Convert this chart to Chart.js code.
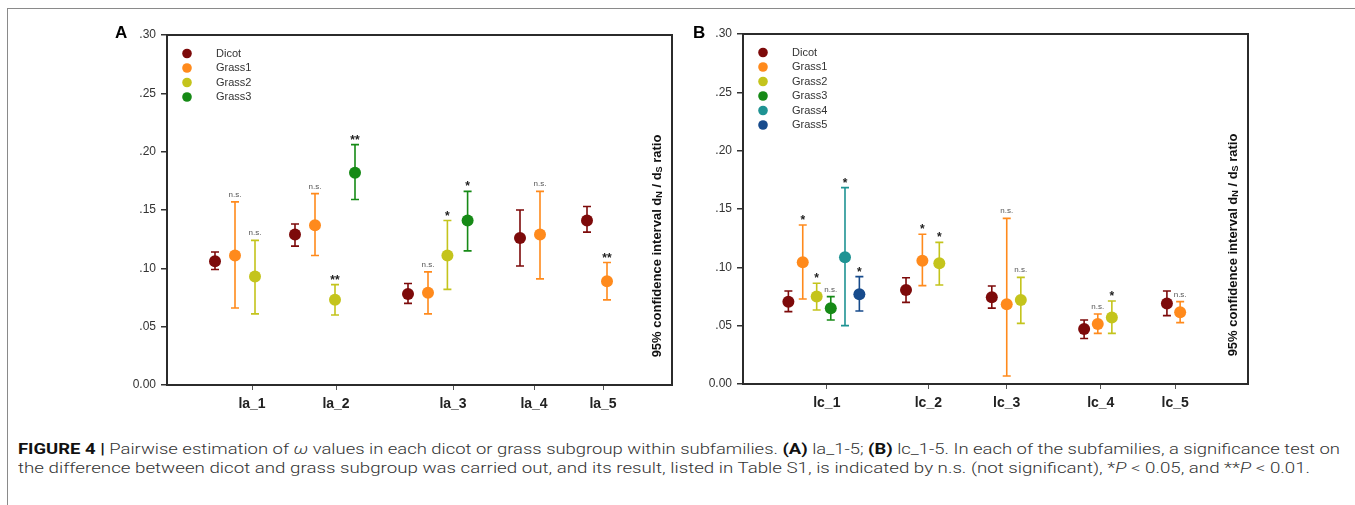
<!DOCTYPE html>
<html>
<head>
<meta charset="utf-8">
<script src="https://cdn.jsdelivr.net/npm/chart.js@4.4.0/dist/chart.umd.min.js"></script>
<style>
  body { margin: 0; background: #fff; width: 1355px; height: 505px; overflow: hidden; position: relative;
         font-family: "Liberation Sans", Arial, sans-serif; }
  #frame { position: absolute; left: 7px; top: 8px; right: 0; bottom: 0;
           border-top: 1px solid #8a8a8a; border-left: 1px solid #8a8a8a; }
  #cvA { position: absolute; left: 0; top: 0; }
  #cvB { position: absolute; left: 680px; top: 0; }
  .panel { position: absolute; font-weight: 700; font-size: 17px; color: #000; }
  .cap { position: absolute; left: 18px; font-family: Roboto, "Liberation Sans", sans-serif; font-weight: 300;
         font-size: 15px; line-height: 18px; color: #333; white-space: nowrap; transform-origin: 0 0; }
  .cap b { font-weight: 700; color: #111; }
</style>
</head>
<body>
<div id="frame"></div>
<canvas id="cvA" width="680" height="420"></canvas>
<canvas id="cvB" width="675" height="420"></canvas>
<div class="panel" style="left:115px;top:23px">A</div>
<div class="panel" style="left:693px;top:23px">B</div>
<div class="cap" id="cap1" style="top:440px"><b>FIGURE 4 |</b> Pairwise estimation of <i>ω</i> values in each dicot or grass subgroup within subfamilies. <b>(A)</b> la_1-5; <b>(B)</b> lc_1-5. In each of the subfamilies, a significance test on</div>
<div class="cap" id="cap2" style="top:459px">the difference between dicot and grass subgroup was carried out, and its result, listed in Table S1, is indicated by n.s. (not significant), *<i>P</i> &lt; 0.05, and **<i>P</i> &lt; 0.01.</div>

<script>
// --- colours per subgroup ---
const COLORS = {
  Dicot: '#7d0a0a', Grass1: '#ff8a1c', Grass2: '#c4c41c',
  Grass3: '#168a16', Grass4: '#1f9393', Grass5: '#174b8c'
};

// ---- panel A : la subfamilies ----
const groupsA = ['la_1', 'la_2', 'la_3', 'la_4', 'la_5'];
const tickPosA = [4.25, 8.45, 14.3, 18.35, 21.8];

const dicotA_x = [2.4, 6.4, 12.05, 17.65, 21.0];
const dicotA_mean = [0.106, 0.129, 0.078, 0.126, 0.141];
const dicotA_lo = [0.099, 0.119, 0.070, 0.102, 0.131];
const dicotA_hi = [0.114, 0.138, 0.087, 0.150, 0.153];

const grass1A_x = [3.4, 7.4, 13.05, 18.65, 22.0];
const grass1A_mean = [0.111, 0.137, 0.079, 0.129, 0.089];
const grass1A_lo = [0.066, 0.111, 0.061, 0.091, 0.073];
const grass1A_hi = [0.157, 0.164, 0.097, 0.166, 0.105];
const grass1A_sig = ['n.s.', 'n.s.', 'n.s.', 'n.s.', '**'];

const grass2A_x = [4.4, 8.4, 14.02];
const grass2A_mean = [0.093, 0.073, 0.111];
const grass2A_lo = [0.061, 0.060, 0.082];
const grass2A_hi = [0.124, 0.086, 0.141];
const grass2A_sig = ['n.s.', '**', '*'];

const grass3A_x = [9.4, 15.03];
const grass3A_mean = [0.182, 0.141];
const grass3A_lo = [0.159, 0.115];
const grass3A_hi = [0.206, 0.166];
const grass3A_sig = ['**', '*'];

// ---- panel B : lc subfamilies ----
const groupsB = ['lc_1', 'lc_2', 'lc_3', 'lc_4', 'lc_5'];
const tickPosB = [5.89, 13.03, 18.54, 25.15, 30.38];

const dicotB_x = [3.19, 11.46, 17.49, 23.98, 29.8];
const dicotB_mean = [0.0706, 0.0806, 0.0743, 0.0471, 0.0691];
const dicotB_lo = [0.062, 0.070, 0.065, 0.039, 0.0586];
const dicotB_hi = [0.0797, 0.0911, 0.084, 0.0549, 0.0797];

const grass1B_x = [4.2, 12.61, 18.54, 24.94, 30.73];
const grass1B_mean = [0.1043, 0.1057, 0.0683, 0.0514, 0.0614];
const grass1B_lo = [0.0729, 0.0843, 0.0069, 0.0434, 0.0526];
const grass1B_hi = [0.1363, 0.1283, 0.142, 0.060, 0.0706];
const grass1B_sig = ['*', '*', 'n.s.', 'n.s.', 'n.s.'];

const grass2B_x = [5.18, 13.8, 19.53, 25.93];
const grass2B_mean = [0.0749, 0.1034, 0.072, 0.0569];
const grass2B_lo = [0.0634, 0.0849, 0.052, 0.0434];
const grass2B_hi = [0.0863, 0.1214, 0.0914, 0.0711];
const grass2B_sig = ['*', '*', 'n.s.', '*'];

const grass3B_x = [6.17];
const grass3B_mean = [0.0649];
const grass3B_lo = [0.0549];
const grass3B_hi = [0.0749];
const grass3B_sig = ['n.s.'];

const grass4B_x = [7.17];
const grass4B_mean = [0.1086];
const grass4B_lo = [0.050];
const grass4B_hi = [0.1683];
const grass4B_sig = ['*'];

const grass5B_x = [8.18];
const grass5B_mean = [0.0769];
const grass5B_lo = [0.0626];
const grass5B_hi = [0.092];
const grass5B_sig = ['*'];

const yTicks = [0, 0.05, 0.10, 0.15, 0.20, 0.25, 0.30];
const yTickLabels = ['0.00', '.05', '.10', '.15', '.20', '.25', '.30'];

const FONT = '"Liberation Sans", Arial, sans-serif';

function series(label, xs, mean, lo, hi, sig) {
  return {
    label,
    data: xs.map((x, i) => ({ x, y: mean[i] })),
    lo, hi, sig: sig || [],
    backgroundColor: COLORS[label],
    borderColor: COLORS[label],
    pointRadius: 6,
    pointBorderWidth: 0,
    showLine: false
  };
}

// error bars under the points, significance marks above the caps
const errorBars = {
  id: 'errorBars',
  beforeDatasetsDraw(chart) {
    const { ctx, scales: { x, y } } = chart;
    chart.data.datasets.forEach(ds => {
      ctx.save();
      ctx.strokeStyle = ds.borderColor;
      ctx.lineWidth = 1.6;
      ds.data.forEach((p, i) => {
        const px = x.getPixelForValue(p.x);
        const top = y.getPixelForValue(ds.hi[i]);
        const bot = y.getPixelForValue(ds.lo[i]);
        ctx.beginPath();
        ctx.moveTo(px, top); ctx.lineTo(px, bot);
        ctx.moveTo(px - 4, top); ctx.lineTo(px + 4, top);
        ctx.moveTo(px - 4, bot); ctx.lineTo(px + 4, bot);
        ctx.stroke();
      });
      ctx.restore();
    });
  },
  afterDatasetsDraw(chart) {
    const { ctx, scales: { x, y } } = chart;
    ctx.save();
    ctx.textAlign = 'center';
    ctx.textBaseline = 'alphabetic';
    chart.data.datasets.forEach(ds => {
      ds.data.forEach((p, i) => {
        const s = ds.sig[i];
        if (!s) return;
        const px = x.getPixelForValue(p.x);
        const top = y.getPixelForValue(ds.hi[i]);
        if (s === 'n.s.') {
          ctx.font = '8px ' + FONT;
          ctx.fillStyle = '#555';
          ctx.fillText(s, px, top - 5);
        } else {
          ctx.font = 'bold 12px ' + FONT;
          ctx.fillStyle = '#222';
          ctx.fillText(s, px, top - 1);
        }
      });
    });
    ctx.restore();
  }
};

// box, in-plot legend and the rotated axis title
const decorations = {
  id: 'decorations',
  afterDraw(chart) {
    const { ctx, chartArea: a } = chart;
    ctx.save();
    ctx.lineWidth = 2;
    ctx.strokeStyle = '#2b2b2b';
    ctx.strokeRect(a.left, a.top, a.right - a.left, a.bottom - a.top);

    // legend
    ctx.font = '11px ' + FONT;
    ctx.textBaseline = 'middle';
    ctx.textAlign = 'left';
    chart.data.datasets.forEach((ds, i) => {
      const ly = a.top + 18.5 + i * 14.5;
      ctx.fillStyle = ds.backgroundColor;
      ctx.beginPath();
      ctx.arc(a.left + 20, ly, 4.8, 0, Math.PI * 2);
      ctx.fill();
      ctx.fillStyle = '#333';
      ctx.fillText(ds.label, a.left + 49, ly);
    });

    // y title, reading bottom to top, with subscripts
    const parts = [['95% confidence interval d', 0], ['N', 1], [' / d', 0], ['S', 1], [' ratio', 0]];
    const big = 'bold 13px ' + FONT, small = 'bold 9px ' + FONT;
    let total = 0;
    parts.forEach(([t, sub]) => { ctx.font = sub ? small : big; total += ctx.measureText(t).width; });
    ctx.translate(a.right - 15, a.top + 211);
    ctx.rotate(-Math.PI / 2);
    ctx.fillStyle = '#111';
    ctx.textBaseline = 'middle';
    let cx = -total / 2;
    parts.forEach(([t, sub]) => {
      ctx.font = sub ? small : big;
      ctx.fillText(t, cx, sub ? 3 : 0);
      cx += ctx.measureText(t).width;
    });
    ctx.restore();
  }
};

function makeChart(id, datasets, groups, tickPos, xMax, yWidth, pad, xHeight) {
  return new Chart(document.getElementById(id), {
    type: 'scatter',
    data: { datasets },
    options: {
      responsive: false,
      animation: false,
      events: [],
      layout: { padding: pad },
      plugins: { legend: { display: false }, tooltip: { enabled: false } },
      scales: {
        x: {
          type: 'linear', min: 0, max: xMax,
          afterBuildTicks: s => { s.ticks = tickPos.map(v => ({ value: v })); },
          afterFit: s => { s.height = xHeight; },
          grid: { display: true, drawOnChartArea: false, drawTicks: true, tickLength: 5, color: '#555', lineWidth: 1 },
          border: { display: false },
          ticks: {
            autoSkip: false, maxRotation: 0, padding: 6,
            color: '#222', font: { family: FONT, size: 14, weight: 'bold' },
            callback: (v, i) => groups[i]
          }
        },
        y: {
          type: 'linear', min: 0, max: 0.30,
          afterBuildTicks: s => { s.ticks = yTicks.map(v => ({ value: v })); },
          afterFit: s => { s.width = yWidth; },
          grid: { display: true, drawOnChartArea: false, drawTicks: true, tickLength: 6, color: '#333', lineWidth: 1.5 },
          border: { display: false },
          ticks: {
            padding: 5, color: '#333', font: { family: FONT, size: 12 },
            callback: (v, i) => yTickLabels[i]
          }
        }
      }
    },
    plugins: [errorBars, decorations]
  });
}

makeChart('cvA', [
  series('Dicot', dicotA_x, dicotA_mean, dicotA_lo, dicotA_hi),
  series('Grass1', grass1A_x, grass1A_mean, grass1A_lo, grass1A_hi, grass1A_sig),
  series('Grass2', grass2A_x, grass2A_mean, grass2A_lo, grass2A_hi, grass2A_sig),
  series('Grass3', grass3A_x, grass3A_mean, grass3A_lo, grass3A_hi, grass3A_sig)
], groupsA, tickPosA, 25.25, 167, { left: 0, top: 35, right: 8, bottom: 0 }, 35);

makeChart('cvB', [
  series('Dicot', dicotB_x, dicotB_mean, dicotB_lo, dicotB_hi),
  series('Grass1', grass1B_x, grass1B_mean, grass1B_lo, grass1B_hi, grass1B_sig),
  series('Grass2', grass2B_x, grass2B_mean, grass2B_lo, grass2B_hi, grass2B_sig),
  series('Grass3', grass3B_x, grass3B_mean, grass3B_lo, grass3B_hi, grass3B_sig),
  series('Grass4', grass4B_x, grass4B_mean, grass4B_lo, grass4B_hi, grass4B_sig),
  series('Grass5', grass5B_x, grass5B_mean, grass5B_lo, grass5B_hi, grass5B_sig)
], groupsB, tickPosB, 35.5, 63, { left: 0, top: 34, right: 107, bottom: 0 }, 36);

// stretch caption lines to the printed widths
[['cap1', 1322], ['cap2', 1292]].forEach(([id, w]) => {
  const el = document.getElementById(id);
  el.style.transform = 'scaleX(' + (w / el.getBoundingClientRect().width) + ')';
});
</script>
</body>
</html>
